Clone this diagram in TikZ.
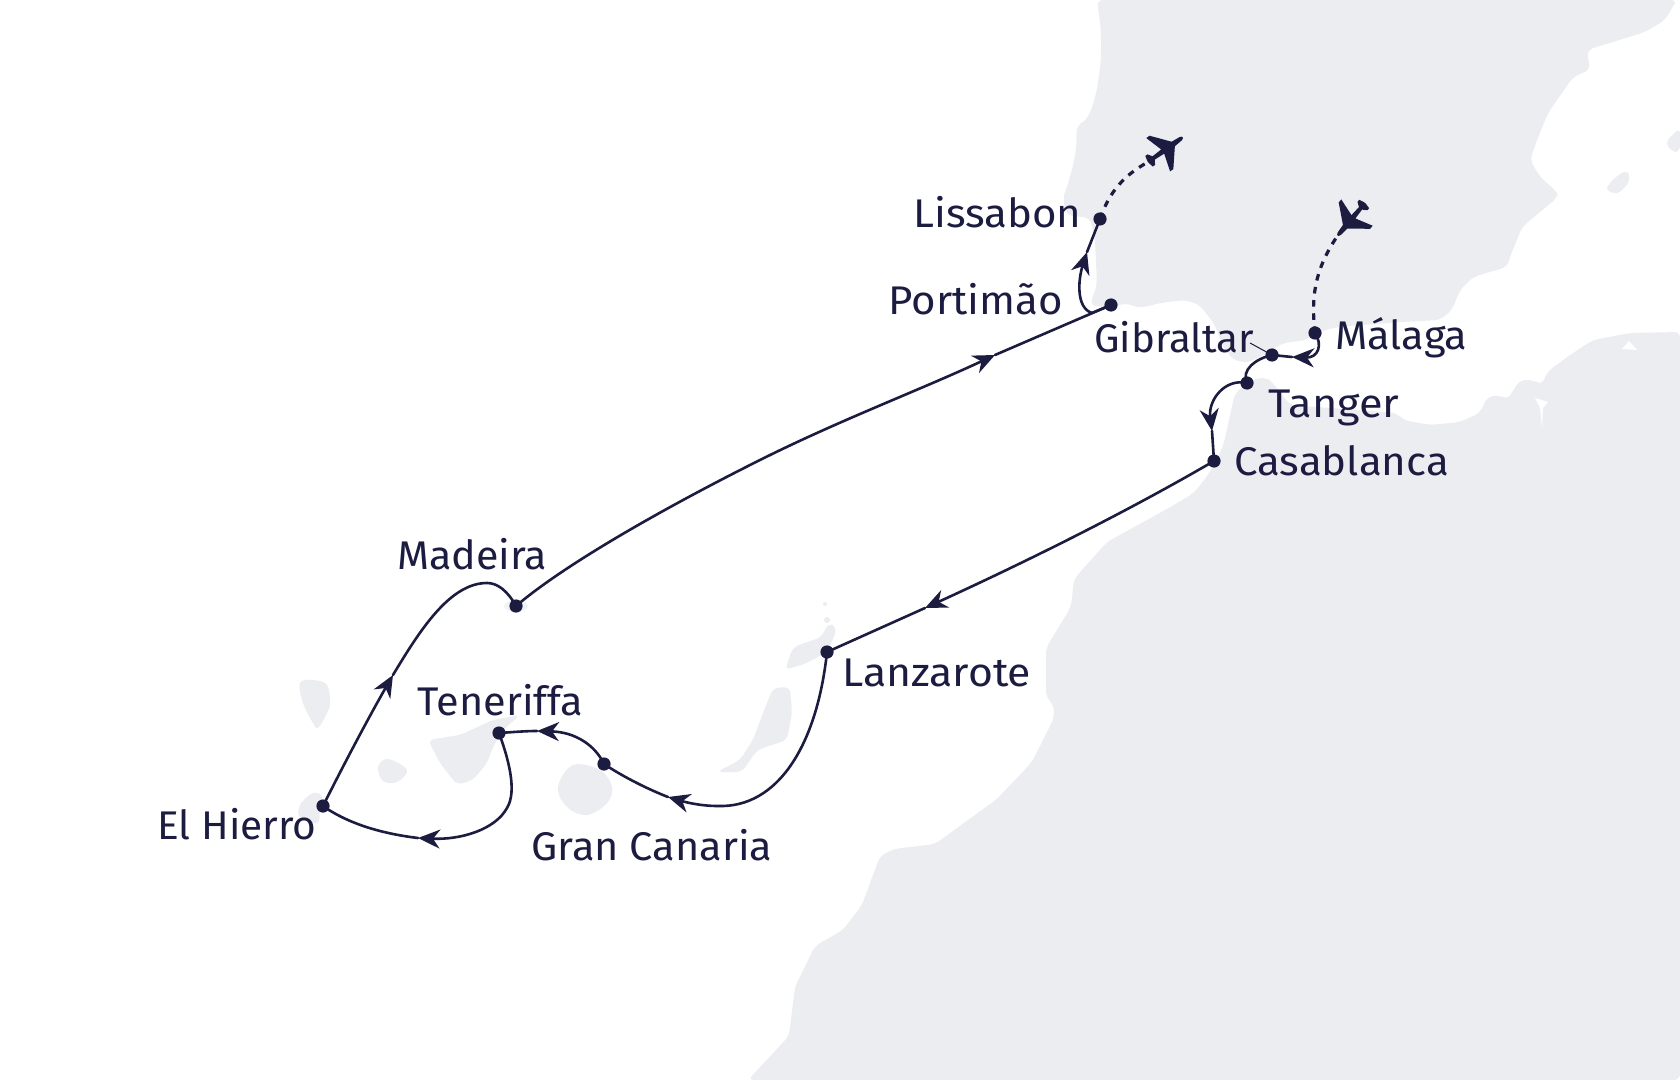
\documentclass[tikz,border=0pt]{standalone}
\usepackage{fontspec}
\setmainfont{Fira Sans}[FakeStretch=1.05]
\usetikzlibrary{arrows.meta}
\definecolor{navy}{HTML}{1B1C40}
\definecolor{land}{HTML}{ECEDF1}
\newcommand{\planeshape}{%
  \fill[navy] (0,-1) -- (1.3,-6.5) -- (4,-6.5) -- (7,-2) -- (18,-2.6) -- (12.5,-20.5) -- (16.5,-20.5) -- (31,-2.8) -- (40,-2) .. controls (43.5,-1.2) and (43.5,1.2) .. (40,2) -- (31,2.8) -- (16.5,20.5) -- (12.5,20.5) -- (18,2.6) -- (7,2) -- (4,6.5) -- (1.3,6.5) -- (0,1) -- cycle;}
\tikzset{
  dotnode/.style={circle,fill=navy,inner sep=0pt,minimum size=6.6pt},
  route/.style={draw=navy,line width=1.3pt,line cap=round},
  tipped/.style={route,-{Stealth[length=11pt,width=9.5pt,inset=3.5pt]}},
  flight/.style={draw=navy,line width=1.6pt,dash pattern=on 3.3pt off 3.3pt},
  leader/.style={draw=navy,line width=.5pt},
  place/.style={anchor=base west,inner sep=0pt,text=navy,font=\fontsize{20}{22}\selectfont,transform shape},
  landshape/.style={fill=land,draw=none,rounded corners=3pt},
  isle/.style={fill=land,draw=none,smooth cycle,tension=.6}
}
\begin{document}
\begin{tikzpicture}[x=.5pt,y=-.5pt]
\useasboundingbox (0,0) rectangle (1680,1080);
\fill[white] (0,0) rectangle (1680,1080);
% Iberia
\path[landshape] (1097,0) -- (1101,30) -- (1101,60) -- (1097,90) -- (1092,108) -- (1085,122) -- (1077,125) -- (1076,150) -- (1072,170) -- (1066,190) -- (1063,198) -- (1066,215) -- (1090,218) -- (1095,240) -- (1097,285) -- (1090,305) -- (1110,308) -- (1125,303) -- (1140,308) -- (1160,303) -- (1185,300) -- (1200,305) -- (1215,325) -- (1222,345) -- (1233,360) -- (1248,363) -- (1267,353) -- (1283,343) -- (1307,340) -- (1315,333) -- (1337,327) -- (1400,322) -- (1440,320) -- (1452,310) -- (1460,290) -- (1473,277) -- (1507,267) -- (1510,257) -- (1522,227) -- (1540,212) -- (1558,197) -- (1557,192) -- (1540,177) -- (1530,160) -- (1537,140) -- (1548,113) -- (1573,77) -- (1590,70) -- (1587,50) -- (1645,32) -- (1665,20) -- (1672,8) -- (1677,0) -- cycle;
% Africa
\path[landshape] (748,1080) -- (789,1036) -- (795,987) -- (815,946) -- (843,930) -- (862,905) -- (880,856) -- (894,849) -- (935,844) -- (997,799) -- (1032,762) -- (1054,718) -- (1054,705) -- (1046,697) -- (1046,648) -- (1071,607) -- (1074,579) -- (1107,542) -- (1167,509) -- (1194,493) -- (1208,475) -- (1223,447) -- (1235,393) -- (1243,387) -- (1252,380) -- (1265,377) -- (1272,382) -- (1290,405) -- (1397,413) -- (1403,420) -- (1430,425) -- (1460,422) -- (1480,413) -- (1487,397) -- (1500,395) -- (1507,400) -- (1520,380) -- (1533,380) -- (1542,385) -- (1547,372) -- (1570,355) -- (1593,340) -- (1630,333) -- (1680,332) -- (1680,1080) -- cycle;
\fill[white] (1622,349) -- (1629,341) -- (1637,350) -- cycle;
\fill[white] (1535,398) -- (1548,402) -- (1543,408) -- (1542,428) -- (1540,408) -- cycle;
% islands
\path[isle] plot coordinates {(300,683) (313,680) (327,685) (330,703) (327,713) (318,728) (313,723) (303,703)};
\path[isle] plot coordinates {(378,767) (388,759) (407,770) (397,782) (383,781)};
\path[landshape] (428,740) -- (460,735) -- (493,720) -- (520,715) -- (503,730) -- (493,747) -- (487,763) -- (473,780) -- (457,785) -- (440,763) -- cycle;
\path[isle] plot coordinates {(300,805) (313,793) (322,797) (320,810) (317,823) (300,817)};
\path[isle] plot coordinates {(558,787) (573,765) (600,770) (612,787) (607,803) (587,815) (567,807)};
\path[landshape] (773,688) -- (790,687) -- (792,713) -- (787,740) -- (757,750) -- (742,772) -- (717,772) -- (740,760) -- (753,740) -- (763,713) -- cycle;
\path[landshape] (785,670) -- (793,647) -- (822,637) -- (828,623) -- (837,627) -- (833,640) -- (825,653) -- (807,663) -- cycle;
\fill[land] (825,604) circle[radius=2];
\fill[land] (827,620) circle[radius=3];
\fill[land!70!white] (516,606) ellipse[x radius=12,y radius=6];
\path[isle] plot coordinates {(1607,188) (1620,174) (1628,173) (1628,183) (1617,193)};
\path[landshape] (1665,142) -- (1680,128) -- (1680,152) -- (1672,152) -- cycle;
% stops
\node[dotnode] (lis) at (1100,219) {};
\node[dotnode] (por) at (1111,305) {};
\node[dotnode] (gib) at (1272,355) {};
\node[dotnode] (mal) at (1315,333) {};
\node[dotnode] (tan) at (1247,383) {};
\node[dotnode] (cas) at (1214,461) {};
\node[dotnode] (lan) at (827,652) {};
\node[dotnode] (gca) at (604,764) {};
\node[dotnode] (ten) at (499,733) {};
\node[dotnode] (hie) at (323,806) {};
\node[dotnode] (mad) at (516,606) {};
% labels
\node[place] (tlis) at (913,228) {Lissabon};
\node[place] (tpor) at (888,315) {Portimão};
\node[place,xscale=.96] (tgib) at (1094,353) {Gibraltar};
\node[place,xscale=.99] (tmal) at (1335,350) {Málaga};
\node[place,xscale=1.03] (ttan) at (1268,417) {Tanger};
\node[place] (tcas) at (1234,475) {Casablanca};
\node[place,xscale=1.018] (tlan) at (842,686) {Lanzarote};
\node[place,xscale=.987] (tgca) at (531,860) {Gran Canaria};
\node[place,xscale=.987] (tten) at (417,715) {Teneriffa};
\node[place,xscale=.967] (thie) at (157,839) {El Hierro};
\node[place,xscale=.98] (tmad) at (397,569) {Madeira};
% arrow tips
\coordinate (a1) at (1292,357);
\coordinate (a2) at (1212,431);
\coordinate (a3) at (925,608);
\coordinate (a4) at (668,797);
\coordinate (a5) at (537,731);
\coordinate (a6) at (418,838);
\coordinate (a7) at (393,675);
\coordinate (a8) at (995,355);
\coordinate (a9) at (1087,252);
\coordinate (pl1) at (1148,162);
\coordinate (pl2) at (1338,235);
\coordinate (gibleader) at (1250,343);
\coordinate (porbend) at (1092,313);
% routes
\draw[tipped] (mal.center) .. controls (1323,345) and (1318,358) .. (a1);
\draw[route] (a1) -- (gib.center);
\draw[route] (gib.center) .. controls (1255,359) and (1241,370) .. (tan.center);
\draw[tipped] (tan.center) .. controls (1225,378) and (1208,400) .. (a2);
\draw[route] (a2) -- (cas.center);
\draw[tipped] (cas.center) .. controls (1130,510) and (1030,560) .. (a3);
\draw[route] (a3) -- (lan.center);
\draw[tipped] (lan.center) .. controls (817,745) and (778,808) .. (718,806) .. controls (700,806) and (685,802) .. (a4);
\draw[route] (a4) .. controls (650,790) and (625,778) .. (gca.center);
\draw[tipped] (gca.center) .. controls (595,745) and (575,732) .. (a5);
\draw[route] (a5) .. controls (525,731) and (515,732) .. (ten.center);
\draw[tipped] (ten.center) .. controls (507,755) and (518,790) .. (507,808) .. controls (495,830) and (460,840) .. (a6);
\draw[route] (a6) .. controls (385,834) and (350,825) .. (hie.center);
\draw[tipped] (hie.center) .. controls (345,762) and (370,715) .. (a7);
\draw[route] (a7) .. controls (420,630) and (450,583) .. (487,583) .. controls (497,583) and (507,590) .. (mad.center);
\draw[tipped] (mad.center) .. controls (570,560) and (680,500) .. (760,460) .. controls (840,420) and (920,390) .. (a8);
\draw[route] (a8) -- (por.center);
\draw[route] (por.center) -- (porbend);
\draw[tipped] (porbend) .. controls (1076,308) and (1078,280) .. (a9);
\draw[route] (a9) -- (lis.center);
\draw[leader] (gibleader) -- (gib.center);
% flights
\draw[flight] (lis.center) .. controls (1110,190) and (1125,175) .. (pl1);
\draw[flight] (mal.center) .. controls (1310,290) and (1318,265) .. (pl2);
\begin{scope}[shift={(1148,162)},rotate=35.5]\planeshape\end{scope}
\begin{scope}[shift={(1365,203)},rotate=230]\planeshape\end{scope}
\end{tikzpicture}
\end{document}
